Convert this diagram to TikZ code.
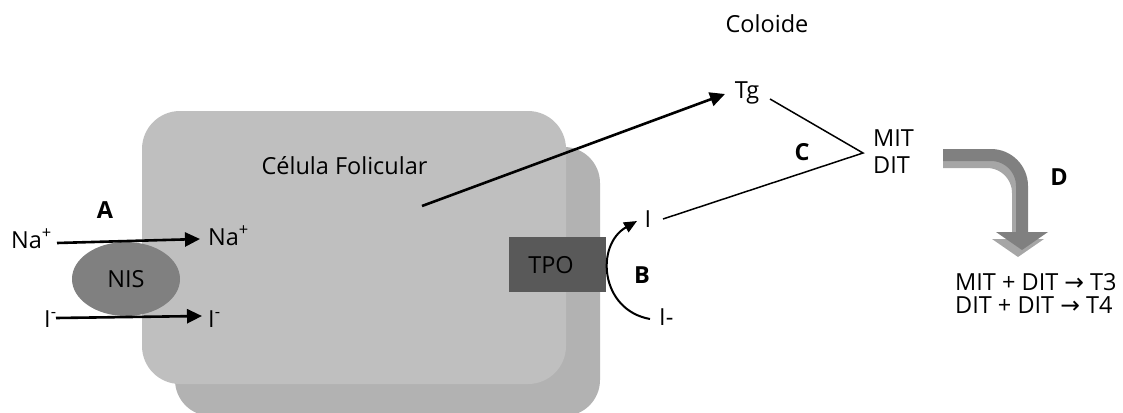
\documentclass[tikz,border=0pt]{standalone}
\usepackage{fontspec}
\setmainfont{Open Sans}
\newfontfamily\arrowfont{DejaVu Sans}
\usetikzlibrary{arrows.meta,shapes.geometric}

\definecolor{cellfront}{RGB}{191,191,191}
\definecolor{cellback}{RGB}{178,178,178}
\definecolor{nisfill}{RGB}{128,128,128}
\definecolor{tpofill}{RGB}{89,89,89}
\definecolor{bentdark}{RGB}{128,128,128}
\definecolor{bentlight}{RGB}{166,166,166}

\newcommand{\labelfont}{\fontsize{23.5}{28}\selectfont}

\tikzset{
  txt/.style={inner sep=0pt, font=\labelfont},
  lbl/.style={txt, font=\labelfont\bfseries},
  flow/.style={line width=2.6pt, -{Triangle[length=15pt,width=14pt]}},
  bondline/.style={line width=1.5pt},
  curvedflow/.style={line width=2pt, -{Triangle[length=13pt,width=11pt]}},
  nisshape/.style={ellipse, fill=nisfill, minimum width=108pt, minimum height=74pt, inner sep=0pt, font=\labelfont},
  tpobox/.style={rectangle, fill=tpofill, minimum width=97pt, minimum height=55pt, inner sep=0pt},
}

\begin{document}
\begin{tikzpicture}[x=1pt,y=-1pt]
\useasboundingbox (0,0) rectangle (1123,412);
\clip (0,0) rectangle (1123,412);

% follicular cell: back and front layers
\fill[cellback, rounded corners=36pt] (175,147) rectangle (600,416);
\fill[cellfront, rounded corners=38pt] (142,111) rectangle (566,384);

% membrane proteins
\node[tpobox] (tpo) at (557.5,264.5) {};
\node[txt, anchor=base] (tpotext) at (551,273) {TPO};
\node[nisshape] (nis) at (126,279) {NIS};

% labels
\node[txt, anchor=base] (coloide) at (767,32.5) {Coloide};
\node[txt, anchor=base] (cellname) at (344.5,174) {Célula Folicular};
\node[lbl, anchor=base] (A) at (105,218) {A};
\node[lbl, anchor=base] (B) at (642,283) {B};
\node[lbl, anchor=base] (C) at (802,160.5) {C};
\node[lbl, anchor=base] (D) at (1059,185) {D};

% ions and products
\node[txt, anchor=base west] (naout) at (11,248) {Na\textsuperscript{+}};
\node[txt, anchor=base west] (nain) at (208,245) {Na\textsuperscript{+}};
\node[txt, anchor=base west] (iout) at (44,327) {I\textsuperscript{-}};
\node[txt, anchor=base west] (iin) at (208,327) {I\textsuperscript{-}};
\node[txt, anchor=base] (tg) at (747,98) {Tg};
\node[txt, anchor=base] (iodine) at (648,227) {I};
\node[txt, anchor=base west] (iodide) at (659,325) {I-};
\node[txt, anchor=base west] (mit) at (873,146) {MIT};
\node[txt, anchor=base west] (dit) at (873,173) {DIT};
\node[txt, anchor=base west] (eqa) at (955,290.5) {MIT + DIT {\arrowfont →} T3};
\node[txt, anchor=base west] (eqb) at (955,313) {DIT + DIT {\arrowfont →} T4};

% connector end points
\coordinate (natail) at (57,243);
\coordinate (natip) at (200,239);
\coordinate (itail) at (56,318);
\coordinate (itip) at (202,316);
\coordinate (tgtail) at (422,206);
\coordinate (tgtip) at (725,94);
\coordinate (tgbond) at (770,99);
\coordinate (joint) at (863,153);
\coordinate (ibond) at (663,219);
\coordinate (btail) at (650,319);
\coordinate (btip) at (637,221);

% transport through NIS
\draw[flow] (natail) -- (natip);
\draw[flow] (itail) -- (itip);
% thyroglobulin export
\draw[flow] (tgtail) -- (tgtip);
% oxidation by TPO
\draw[curvedflow] (btail) .. controls (600,310) and (595,245) .. (btip);
% iodination of Tg
\draw[bondline] (tgbond) -- (joint) -- (ibond);

% bent arrow D with its shadow
\begin{scope}[shift={(-4,7)}]
  \draw[bentlight, line width=12pt, rounded corners=31pt] (947,155) -- (1022,155) -- (1022,233);
  \fill[bentlight] (996,232) -- (1048,232) -- (1022,250) -- cycle;
\end{scope}
\draw[bentdark, line width=12pt, rounded corners=31pt] (943,155) -- (1022,155) -- (1022,233);
\fill[bentdark] (996,232) -- (1048,232) -- (1022,250) -- cycle;
\end{tikzpicture}
\end{document}
